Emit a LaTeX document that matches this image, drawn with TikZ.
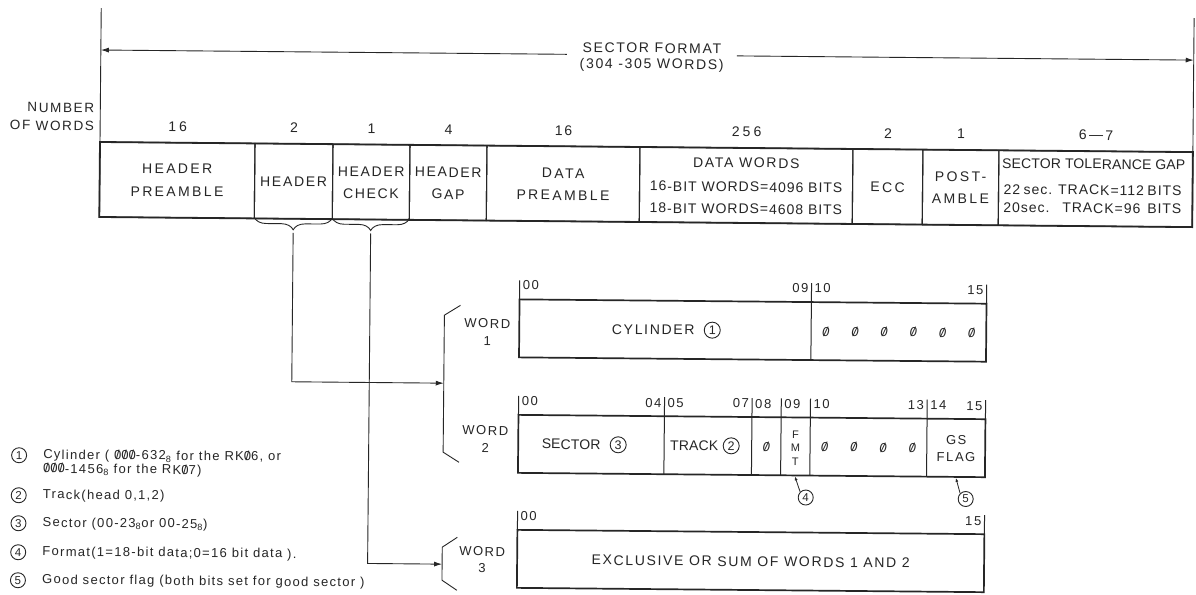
\documentclass[tikz,border=0pt]{standalone}
\usepackage{fontspec}
\setmainfont{Liberation Sans}
\newfontfamily\lt[LetterSpace=12]{Liberation Sans}
\newfontfamily\ltw[LetterSpace=17]{Liberation Sans}
\newfontfamily\ltn[LetterSpace=1]{Liberation Sans}
\newfontfamily\ltd[LetterSpace=22]{Liberation Sans}
\newfontfamily\ltg[LetterSpace=7]{Liberation Sans}
\newfontfamily\ltl[LetterSpace=10]{Liberation Sans}
\usetikzlibrary{arrows.meta,decorations.pathreplacing}
\newcommand\szero{\ooalign{0\cr\hidewidth/\hidewidth\cr}}
\newcommand\fs[1]{\fontsize{#1}{#1}\selectfont}
\colorlet{ink}{black!85}
\def\bw{29.1875}
\begin{document}
\begin{tikzpicture}[x=1pt,y=-1pt,
  every node/.style={text=ink},
  t/.style={inner sep=0pt, font=\lt\fs{14}},
  tw/.style={inner sep=0pt, font=\ltw\fs{14}},
  tn/.style={inner sep=0pt, font=\ltn\fs{14}},
  tnum/.style={inner sep=0pt, font=\ltd\fs{14}},
  lg/.style={inner sep=0pt, anchor=west, font=\ltl\fs{13}},
  cell/.style={draw=ink, line width=1.1pt, inner sep=0pt, outer sep=0pt, minimum height=75pt},
  wbox/.style={draw=ink, line width=1.7pt, inner sep=0pt, outer sep=0pt, minimum height=58pt, minimum width=467pt},
  div/.style={draw=ink, line width=1pt},
  lab/.style={inner sep=0pt, font=\lt\fs{13}},
  cnum/.style={circle, draw=ink, line width=0.9pt, inner sep=0pt, minimum size=15pt, font=\ltn\fs{11.5}},
  bnum/.style={cnum, minimum size=16pt, font=\ltn\fs{12.5}},
  conn/.style={draw=ink, line width=0.9pt},
  arr/.style={draw=ink, line width=0.9pt, -{Latex[length=8pt,width=5pt]}},
  sarr/.style={draw=ink, line width=0.8pt, -{Latex[length=4pt,width=3pt]}},
]
\fill[white] (0,0) rectangle (1196,594);
\useasboundingbox (0,0) rectangle (1196,594);
\begin{scope}[rotate around={-0.53:(100,142)}, transform shape]
% ---- sector format header ----
\coordinate (tl) at (100,8);
\coordinate (tr) at (1193,8);
\coordinate (al) at (100,50);
\coordinate (ar) at (1193,50);
\coordinate (la) at (566,50);
\coordinate (ra) at (736,50);
\node[t] (sf) at (651,43) {SECTOR FORMAT};
\node[t] (sw) at (651,60) {(304 -305 WORDS)};
\draw[arr] (la) -- (al);
\draw[arr] (ra) -- (ar);
\node[t, anchor=east, font=\lt\fs{13.5}] (numA) at (94,108) {NUMBER};
\node[t, anchor=east, font=\lt\fs{13.5}] (numB) at (94,126) {OF WORDS};
% ---- table cells ----
\node[cell, minimum width=155pt] (hp)  at (177.5,179.5) {};
\node[cell, minimum width=78pt]  (hdr) at (294,179.5) {};
\node[cell, minimum width=77pt]  (hc)  at (371.5,179.5) {};
\node[cell, minimum width=77pt]  (hg)  at (448.5,179.5) {};
\node[cell, minimum width=153pt] (dp)  at (563.5,179.5) {};
\node[cell, minimum width=213pt] (dw)  at (746.5,179.5) {};
\node[cell, minimum width=70pt]  (ecc) at (888,179.5) {};
\node[cell, minimum width=76pt]  (pa)  at (961,179.5) {};
\node[cell, minimum width=194pt] (stg) at (1096,179.5) {};
\draw[ink, line width=1.8pt] (hp.north west) rectangle (stg.south east);
\draw[conn] (tl) -- (hp.north west);
\draw[conn] (tr) -- (stg.north east);
% number of words
\node[tnum] (n1) at (177.5,126) {16};
\node[tnum] (n2) at (294,126) {2};
\node[tnum] (n3) at (371.5,126) {1};
\node[tnum] (n4) at (448.5,126) {4};
\node[t]    (n5) at (563.5,126) {16};
\node[tnum] (n6) at (746.5,126) {256};
\node[tnum] (n7) at (888,126) {2};
\node[tnum] (n8) at (961,126) {1};
\node[t]    (n9) at (1096,126) {6\,—\,7};
% cell texts
\node[tw] (hpa) at (177.5,168) {HEADER};
\node[tw] (hpb) at (177.5,191) {PREAMBLE};
\node[t]  (hdra) at (294,180) {HEADER};
\node[t]  (hca) at (371.5,169) {HEADER};
\node[t]  (hcb) at (371.5,191) {CHECK};
\node[t]  (hga) at (448.5,169) {HEADER};
\node[t]  (hgb) at (448.5,191) {GAP};
\node[tw] (dpa) at (563.5,169) {DATA};
\node[tw] (dpb) at (563.5,191) {PREAMBLE};
\node[t]  (dwa) at (746.5,157) {DATA WORDS};
\node[inner sep=0pt, font=\ltg\fs{14}] (dwb) at (746.5,181) {16-BIT WORDS=4096 BITS};
\node[inner sep=0pt, font=\ltg\fs{14}] (dwc) at (746.5,203) {18-BIT WORDS=4608 BITS};
\node[tw] (ecca) at (888,180) {ECC};
\node[tw] (paa) at (961,169) {POST-};
\node[tw] (pab) at (961,191) {AMBLE};
\node[tn] (stga) at (1094,155) {SECTOR TOLERANCE GAP};
\node[inner sep=0pt, font=\ltg\fs{14}] (stgb) at (1093,181) {\makebox[178pt][s]{22 sec. TRACK=112 BITS}};
\node[inner sep=0pt, font=\ltg\fs{14}] (stgc) at (1093,199) {\makebox[178pt][s]{20sec. TRACK=96 BITS}};
% braces
\draw[conn, decorate, decoration={brace, amplitude=12pt, mirror}] ([yshift=1pt]hdr.south west) -- ([yshift=1pt]hdr.south east);
\draw[conn, decorate, decoration={brace, amplitude=12pt, mirror}] ([yshift=1pt]hc.south west) -- ([yshift=1pt]hc.south east);
\coordinate (br1) at (294,231);
\coordinate (br2) at (371.5,231);
% brackets
\coordinate (b1) at (446,380);
\coordinate (b3) at (446,561);
\draw[conn] (462,302) -- (446,312) -- (446,449) -- (462,459);
\draw[conn] (461,534) -- (446,544) -- (446,577) -- (461,587);
\draw[arr] (br1) -- (br1 |- b1) -- (b1);
\draw[arr] (br2) -- (br2 |- b3) -- (b3);
\node[t, font=\lt\fs{13}] (wd1a) at (489,320) {WORD};
\node[t, font=\lt\fs{13}] (wd1b) at (489,337) {1};
\node[t, font=\lt\fs{13}] (wd2a) at (488,427) {WORD};
\node[t, font=\lt\fs{13}] (wd2b) at (488,444) {2};
\node[t, font=\lt\fs{13}] (wd3a) at (486,548) {WORD};
\node[t, font=\lt\fs{13}] (wd3b) at (486,565) {3};
% ---- word 1 ----
\node[wbox] (w1) at (754.5,324.5) {};
\draw[div] ({521+10*\bw},295.5) -- ({521+10*\bw},353.5);
\foreach \x in {521, {521+10*\bw}, 988} \draw[div] (\x,295.5) -- ++(0,-19);
\node[lab, anchor=base west] (w1l0) at (524,286) {00};
\node[lab, anchor=base east] (w1l9) at ({521+10*\bw-3},286) {09};
\node[lab, anchor=base west] (w1l10) at ({521+10*\bw+3},286) {10};
\node[lab, anchor=base east] (w1l15) at (985,286) {15};
\node[t] (cyl) at (655,324.5) {CYLINDER};
\node[bnum] (c1b) at (714,324.5) {1};
\foreach \b in {10,...,15} \node[tn, font=\itshape\fs{13}] (z1\b) at ({521+(\b+0.5)*\bw},325) {\szero};
% ---- word 2 ----
\node[wbox] (w2) at (754.5,440) {};
\foreach \b in {5,8,9,10,14} \draw[div] ({521+\b*\bw},411) -- ({521+\b*\bw},469);
\foreach \b in {0,5,8,9,10,14,16} \draw[div] ({521+\b*\bw},411) -- ++(0,-19);
\node[lab, anchor=base west] (w2l0) at (524,402) {00};
\node[lab, anchor=base east] (w2l4) at ({521+5*\bw-3},402) {04};
\node[lab, anchor=base west] (w2l5) at ({521+5*\bw+3},402) {05};
\node[lab, anchor=base east] (w2l7) at ({521+8*\bw-3},402) {07};
\node[lab, anchor=base west] (w2l8) at ({521+8*\bw+3},402) {08};
\node[lab, anchor=base west] (w2l9) at ({521+9*\bw+3},402) {09};
\node[lab, anchor=base west] (w2l10) at ({521+10*\bw+3},402) {10};
\node[lab, anchor=base east] (w2l13) at ({521+14*\bw-3},402) {13};
\node[lab, anchor=base west] (w2l14) at ({521+14*\bw+3},402) {14};
\node[lab, anchor=base east] (w2l15) at (985,402) {15};
\node[tn] (sec) at (574,440) {SECTOR};
\node[bnum] (c3b) at (621,440) {3};
\node[tn] (trk) at (697,440) {TRACK};
\node[bnum] (c2b) at (734,440) {2};
\node[tn, font=\itshape\fs{13}] (z28) at ({521+8.5*\bw},440.5) {\szero};
\node[tn, font=\ltn\fs{11}] (fmtf) at ({521+9.5*\bw},428.5) {F};
\node[tn, font=\ltn\fs{11}] (fmtm) at ({521+9.5*\bw},441.5) {M};
\node[tn, font=\ltn\fs{11}] (fmtt) at ({521+9.5*\bw},455) {T};
\foreach \b in {10,...,13} \node[tn, font=\itshape\fs{13}] (z2\b) at ({521+(\b+0.5)*\bw},440.5) {\szero};
\node[t, font=\lt\fs{13}] (gs) at (959,432) {GS};
\node[t, font=\lt\fs{13}] (flag) at (959,449) {FLAG};
\node[cnum] (c4b) at (809,491) {4};
\node[cnum] (c5b) at (969,491) {5};
\coordinate (p4) at (798,470);
\coordinate (p5) at (959,470);
\draw[sarr] (c4b.north west) -- (p4);
\draw[sarr] (c5b.north west) -- (p5);
% ---- word 3 ----
\node[wbox] (w3) at (754.5,555) {};
\foreach \x in {521, 988} \draw[div] (\x,526) -- ++(0,-19);
\node[lab, anchor=base west] (w3l0) at (524,517) {00};
\node[lab, anchor=base east] (w3l15) at (985,517) {15};
\node[t] (xor) at (754.5,555.5) {EXCLUSIVE OR SUM OF WORDS 1 AND 2};
% ---- legend ----
\node[cnum] (l1) at (22,456) {1};
\node[lg] (l1a) at (46,456) {Cylinder ( \szero\szero\szero-632\textsubscript{8} for the RK\szero6, or};
\node[lg] (l1b) at (46,470) {\szero\szero\szero -1456\textsubscript{8} for the RK\szero7)};
\node[cnum] (l2) at (22,496) {2};
\node[lg] (l2a) at (46,496) {Track(head 0,1,2)};
\node[cnum] (l3) at (22,524) {3};
\node[lg] (l3a) at (46,524) {Sector (00-23\textsubscript{8}or 00-25\textsubscript{8})};
\node[cnum] (l4) at (22,553) {4};
\node[lg] (l4a) at (46,553) {Format(1=18-bit data;0=16 bit data ).};
\node[cnum] (l5) at (22,581) {5};
\node[lg] (l5a) at (46,581) {Good sector flag (both bits set for good sector )};
\end{scope}
\end{tikzpicture}
\end{document}
